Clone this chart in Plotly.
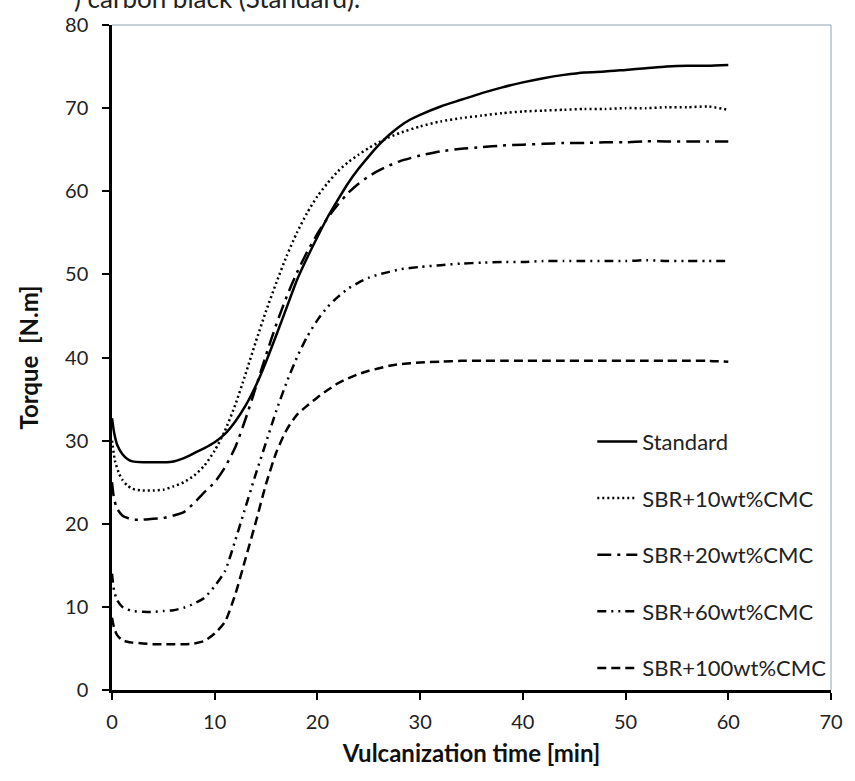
import plotly.graph_objects as go

# ---------------- data ----------------
series_names = ["Standard", "SBR+10wt%CMC", "SBR+20wt%CMC", "SBR+60wt%CMC", "SBR+100wt%CMC"]

time_std = [0, 0.2, 0.5, 1, 1.5, 2, 3, 4, 5, 6, 7, 8, 9, 10, 11, 12, 13, 14, 15, 16, 17, 18, 19, 20,
            21, 22, 23, 24, 25, 26, 27, 28, 29, 30, 32, 34, 36, 38, 40, 42, 44, 46, 48, 50, 52, 54, 56, 58, 60]
torque_std = [32.7, 31.0, 29.5, 28.4, 27.8, 27.5, 27.4, 27.4, 27.4, 27.5, 27.9, 28.5, 29.1, 29.8, 30.8, 32.3,
              34.2, 36.6, 39.5, 42.7, 46.0, 49.3, 52.0, 54.5, 56.9, 59.0, 61.0, 62.7, 64.2, 65.6, 66.8, 67.8,
              68.6, 69.2, 70.2, 71.0, 71.8, 72.5, 73.1, 73.6, 74.0, 74.3, 74.4, 74.6, 74.8, 75.0, 75.1, 75.1, 75.2]

time_10 = [0, 0.3, 0.7, 1, 1.5, 2, 3, 4, 5, 6, 7, 8, 9, 10, 11, 12, 13, 14, 15, 16, 17, 18, 19, 20,
           21, 22, 23, 24, 25, 26, 27, 28, 30, 32, 34, 36, 38, 40, 42, 44, 46, 48, 50, 52, 54, 56, 58, 60]
torque_10 = [30.0, 27.5, 26.0, 25.3, 24.6, 24.2, 24.0, 24.0, 24.1, 24.5, 25.0, 25.8, 27.0, 28.8, 31.2, 34.3,
             38.0, 41.9, 45.6, 49.0, 52.2, 55.0, 57.4, 59.4, 61.0, 62.4, 63.5, 64.4, 65.2, 65.9, 66.5, 67.0,
             67.8, 68.4, 68.8, 69.1, 69.4, 69.6, 69.7, 69.8, 69.9, 69.9, 70.0, 70.0, 70.1, 70.1, 70.2, 69.8]

time_20 = [0, 0.2, 0.5, 1, 1.5, 2, 3, 4, 5, 6, 7, 8, 9, 10, 11, 12, 13, 14, 15, 16, 17, 18, 19, 20,
           21, 22, 23, 24, 25, 26, 27, 28, 30, 32, 34, 36, 38, 40, 42, 44, 46, 48, 50, 52, 54, 56, 58, 60]
torque_20 = [25.0, 23.0, 21.8, 21.0, 20.7, 20.5, 20.5, 20.6, 20.7, 21.0, 21.4, 22.5, 23.8, 25.0, 26.8, 29.2,
             32.6, 36.4, 40.3, 44.0, 47.3, 50.2, 52.7, 54.9, 56.8, 58.4, 59.8, 60.9, 61.8, 62.5, 63.1, 63.6,
             64.3, 64.8, 65.1, 65.3, 65.5, 65.6, 65.7, 65.8, 65.8, 65.9, 65.9, 66.0, 66.0, 66.0, 66.0, 66.0]

time_60 = [0, 0.2, 0.5, 1, 1.5, 2, 3, 4, 5, 6, 7, 8, 9, 10, 11, 12, 13, 14, 15, 16, 17, 18, 19, 20,
           21, 22, 23, 24, 25, 26, 27, 28, 30, 32, 34, 36, 38, 40, 42, 44, 46, 48, 50, 52, 54, 56, 58, 60]
torque_60 = [14.0, 12.0, 10.8, 10.0, 9.7, 9.5, 9.4, 9.4, 9.5, 9.6, 9.9, 10.4, 11.1, 12.5, 14.3, 18.0,
             22.0, 26.0, 29.8, 33.6, 37.0, 40.0, 42.5, 44.5, 46.1, 47.3, 48.3, 49.0, 49.6, 50.0, 50.3, 50.6,
             50.9, 51.1, 51.3, 51.4, 51.5, 51.5, 51.6, 51.6, 51.6, 51.6, 51.6, 51.7, 51.6, 51.6, 51.6, 51.6]

time_100 = [0, 0.2, 0.5, 1, 1.5, 2, 3, 4, 5, 6, 7, 8, 9, 10, 11, 12, 13, 14, 15, 16, 17, 18, 19, 20,
            21, 22, 23, 24, 25, 26, 27, 28, 30, 32, 34, 36, 38, 40, 42, 44, 46, 48, 50, 52, 54, 56, 58, 60]
torque_100 = [8.7, 7.5, 6.6, 6.0, 5.8, 5.7, 5.6, 5.5, 5.5, 5.5, 5.5, 5.6, 5.9, 6.8, 8.2, 11.5,
              15.8, 20.2, 24.8, 28.6, 31.3, 33.1, 34.2, 35.2, 36.1, 36.9, 37.5, 38.0, 38.4, 38.7, 39.0, 39.2,
              39.4, 39.5, 39.6, 39.6, 39.6, 39.6, 39.6, 39.6, 39.6, 39.6, 39.6, 39.6, 39.6, 39.6, 39.6, 39.5]

x_ticks = [0, 10, 20, 30, 40, 50, 60, 70]
y_ticks = [0, 10, 20, 30, 40, 50, 60, 70, 80]

# ---------------- figure ----------------
FONT = "Lato, 'Open Sans', sans-serif"
xs = [time_std, time_10, time_20, time_60, time_100]
ys = [torque_std, torque_10, torque_20, torque_60, torque_100]
dashes = ["solid", "2px,3px", "14px,6px,3px,6px", "9px,5px,2px,5px,2px,5px", "9px,5px"]

fig = go.Figure()
for i, (name, x, y, d) in enumerate(zip(series_names, xs, ys, dashes)):
    fig.add_trace(go.Scatter(
        x=x, y=y, mode="lines", name=name, legendgroup=f"g{i}",
        line=dict(color="black", width=2.5, dash=d, shape="spline", smoothing=0.6),
    ))

fig.update_layout(
    width=855, height=781,
    margin=dict(l=112, r=17, t=18, b=91),
    paper_bgcolor="white", plot_bgcolor="white",
    font=dict(family=FONT, color="#222222", size=20),
    showlegend=True,
    legend=dict(
        x=0.668, y=0.405, xanchor="left", yanchor="top",
        bgcolor="rgba(0,0,0,0)", font=dict(size=22, family=FONT, color="#222222"),
        tracegroupgap=25, itemwidth=40,
    ),
    xaxis=dict(
        range=[0, 70], tickvals=x_ticks, showgrid=False, zeroline=False,
        showline=True, linecolor="black", linewidth=2.5,
        ticks="outside", ticklen=7, tickwidth=2, tickcolor="black",
        ticklabelstandoff=5,
        tickfont=dict(size=20, family=FONT, color="#222222"),
        title=dict(text="<b>Vulcanization time [min]</b>", font=dict(size=24, family=FONT, color="#111111"), standoff=14),
    ),
    yaxis=dict(
        range=[0, 80], tickvals=y_ticks, showgrid=False, zeroline=False,
        showline=True, linecolor="black", linewidth=2.5,
        ticks="outside", ticklen=7, tickwidth=2, tickcolor="black",
        ticklabelstandoff=10,
        tickfont=dict(size=20, family=FONT, color="#222222"),
        title=dict(text="<b>Torque  [N.m]</b>", font=dict(size=24, family=FONT, color="#111111"), standoff=20),
    ),
    shapes=[dict(type="path", xref="paper", yref="paper",
                 path="M 0 1 L 1 1 L 1 0", line=dict(color="#8fa3b8", width=1))],
    annotations=[dict(text=") carbon black (Standard).", xref="paper", yref="paper",
                      x=0.348, y=1.013, xanchor="right", yanchor="bottom", showarrow=False,
                      font=dict(size=26, family=FONT, color="#222222"))],
)

fig.write_html(
    "out.html",
    config={"displayModeBar": False},
    post_script="document.body.style.margin='0';document.body.style.overflow='hidden';",
)
